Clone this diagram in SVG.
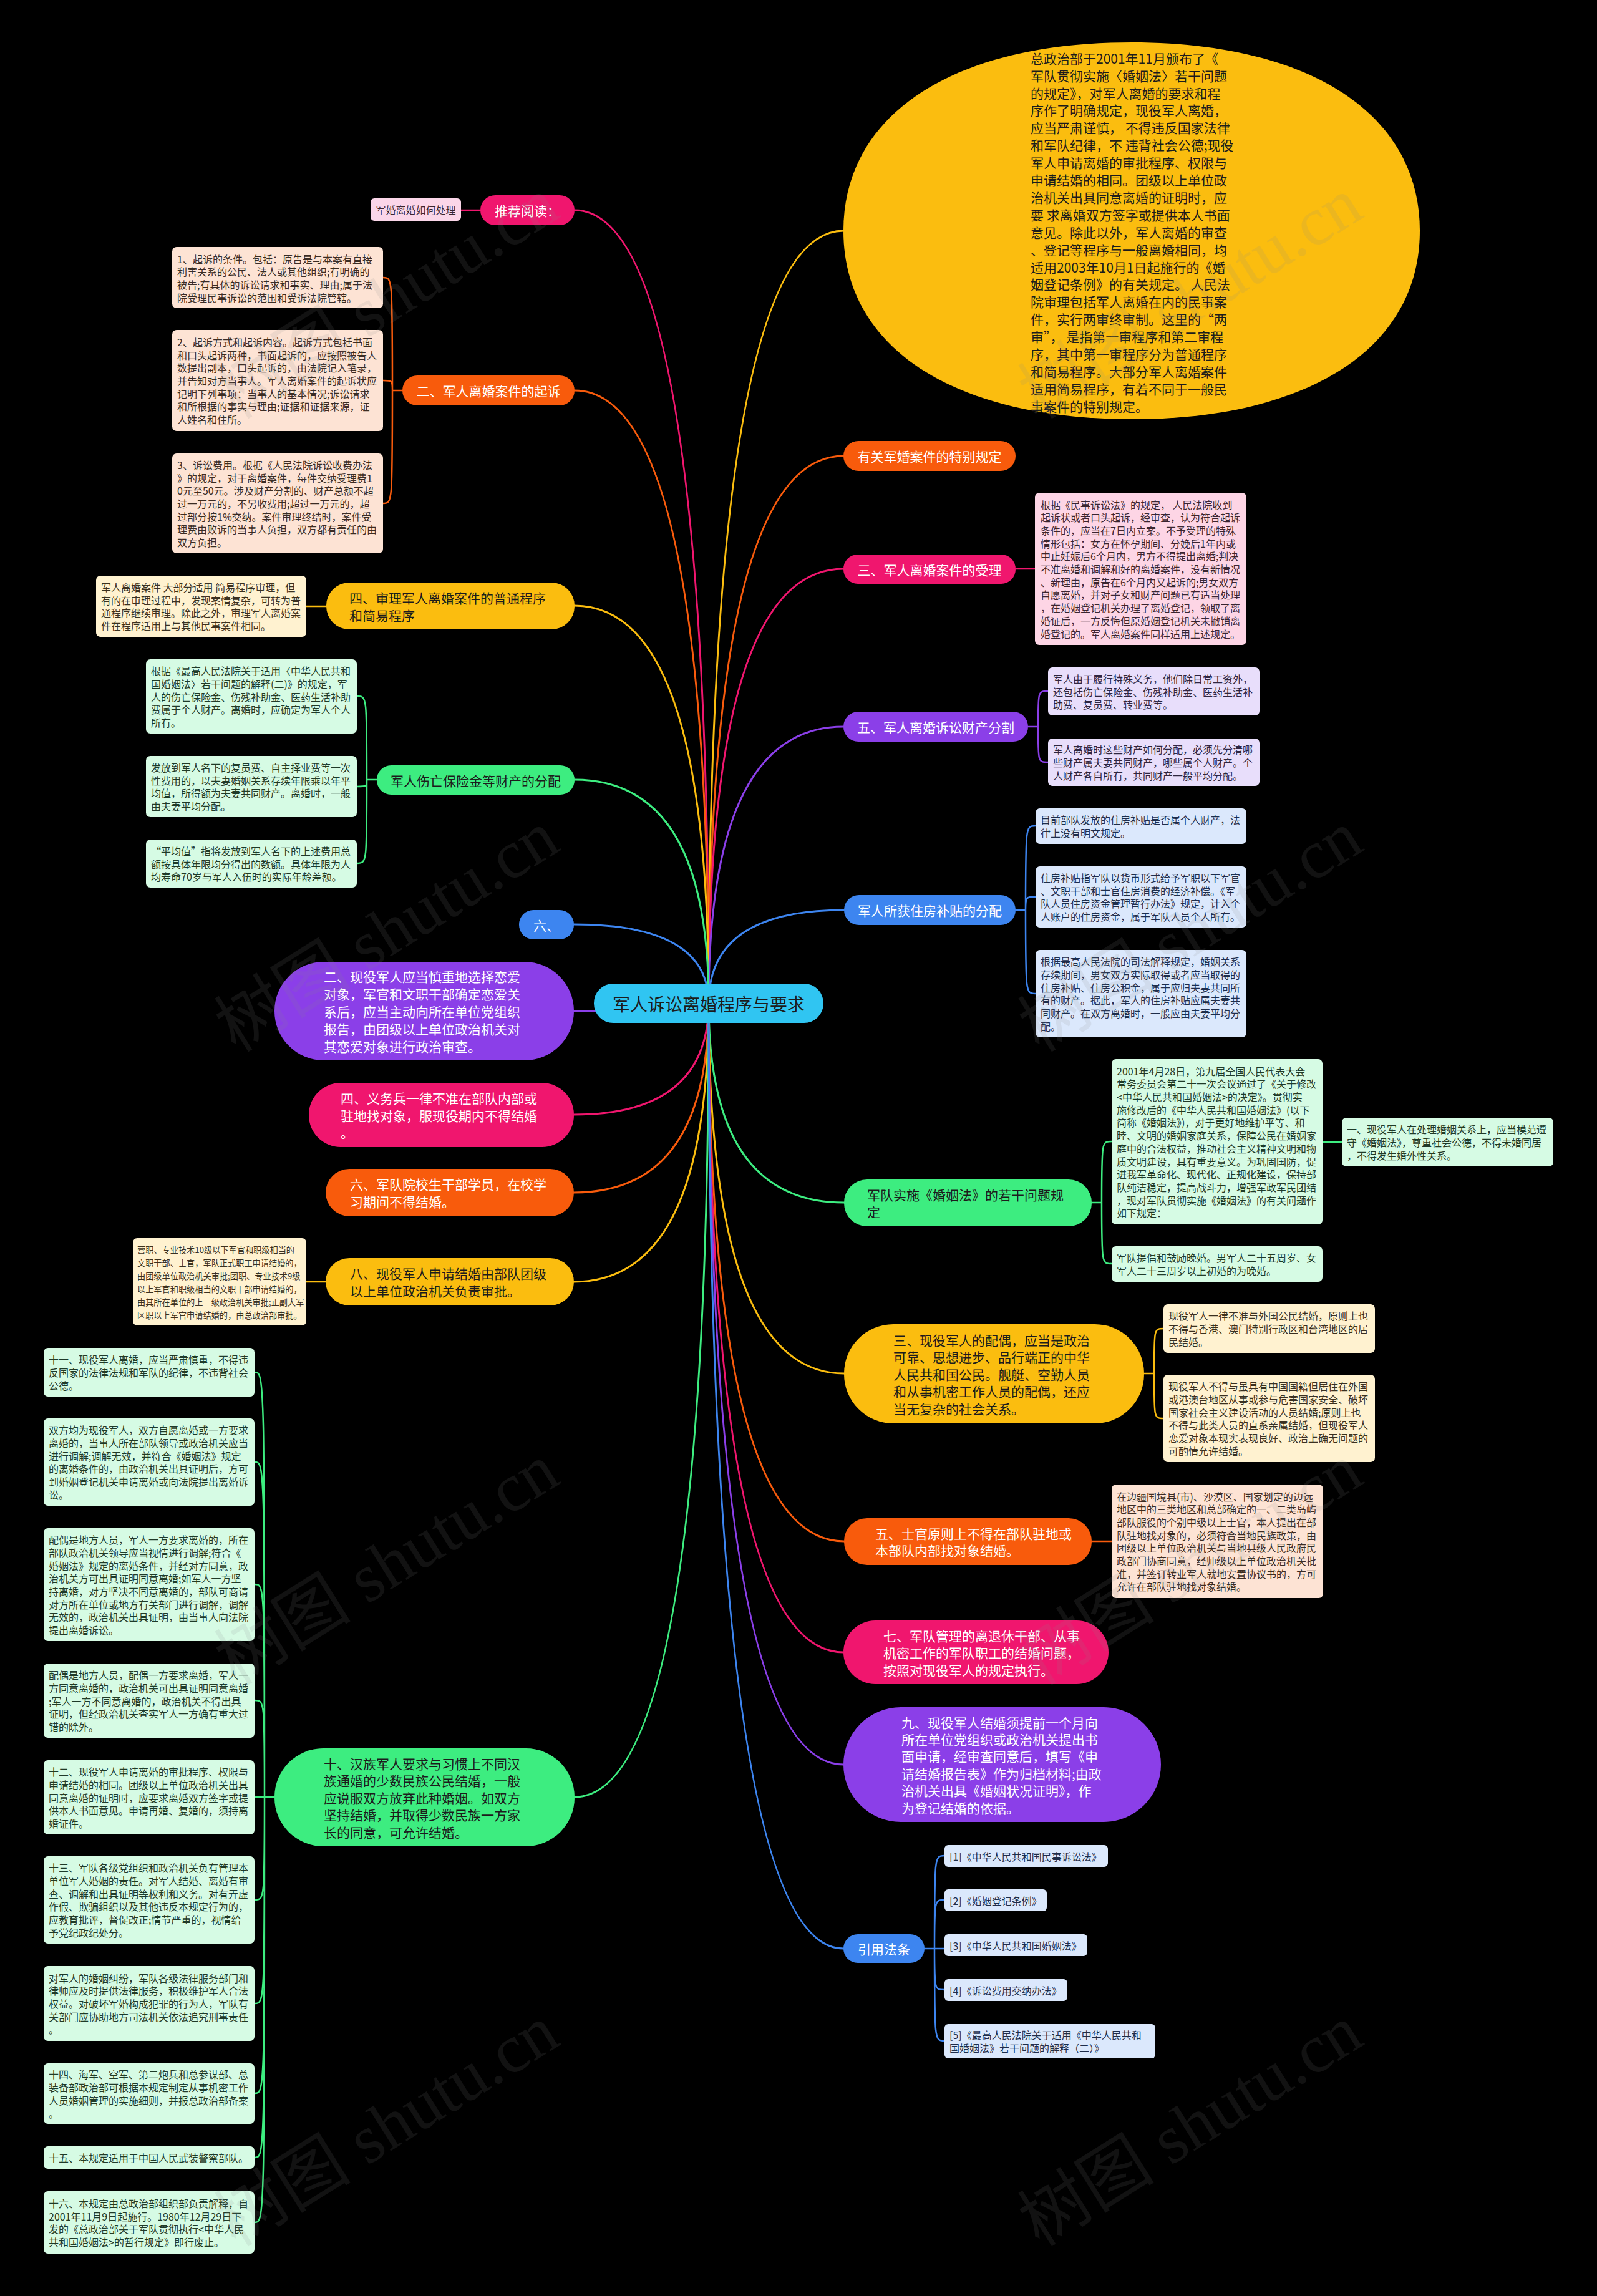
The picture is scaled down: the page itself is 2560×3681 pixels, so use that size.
<svg xmlns="http://www.w3.org/2000/svg" width="2560" height="3681" viewBox="0 0 2560 3681">
<style>
.t{font-family:"Noto Sans CJK SC","Noto Sans",sans-serif;dominant-baseline:central}
.d{font-size:16px}
.n{font-size:21px}
.w{fill:#ffffff}
.k{fill:#1c1c1c}
.c{fill:none;stroke-width:3;stroke-linecap:round}
.cs{fill:none;stroke-width:2.5;stroke-linecap:round}
.wm{font-family:"Liberation Serif","Noto Sans CJK SC",serif;font-size:110px;fill:#8a8a8a;opacity:0.13}
</style>
<rect x="0" y="0" width="2560" height="3681" fill="#000000"/>

<g id="connectors">
<path class="c" stroke="#f0166e" d="M1136 1608 Q1136 337 921 337"/>
<path class="c" stroke="#f85b0c" d="M1136 1608 Q1136 626 921 626"/>
<path class="c" stroke="#fbbd0f" d="M1136 1608 Q1136 370 1352 370"/>
<path class="c" stroke="#f85b0c" d="M1136 1608 Q1136 731 1352 731"/>
<path class="c" stroke="#f0166e" d="M1136 1608 Q1136 912 1352 912"/>
<path class="c" stroke="#fbbd0f" d="M1136 1608 Q1136 971 921 971"/>
<path class="c" stroke="#8b3fe8" d="M1136 1608 Q1136 1165 1352 1165"/>
<path class="c" stroke="#3ded80" d="M1136 1608 Q1136 1250 921 1250"/>
<path class="c" stroke="#3d85f0" d="M1136 1608 Q1136 1459 1353 1459"/>
<path class="c" stroke="#3d85f0" d="M1136 1608 Q1136 1482 920 1482"/>
<path class="c" stroke="#8b3fe8" d="M1136 1608 Q1136 1621 920 1621"/>
<path class="c" stroke="#f0166e" d="M1136 1608 Q1136 1787 920 1787"/>
<path class="c" stroke="#3ded80" d="M1136 1608 Q1136 1928 1353 1928"/>
<path class="c" stroke="#f85b0c" d="M1136 1608 Q1136 1912 920 1912"/>
<path class="c" stroke="#fbbd0f" d="M1136 1608 Q1136 2055 920 2055"/>
<path class="c" stroke="#fbbd0f" d="M1136 1608 Q1136 2202 1353 2202"/>
<path class="c" stroke="#f85b0c" d="M1136 1608 Q1136 2471 1353 2471"/>
<path class="c" stroke="#f0166e" d="M1136 1608 Q1136 2649 1352 2649"/>
<path class="c" stroke="#8b3fe8" d="M1136 1608 Q1136 2829 1352 2829"/>
<path class="c" stroke="#3ded80" d="M1136 1608 Q1136 2881 921 2881"/>
<path class="c" stroke="#3d85f0" d="M1136 1608 Q1136 3124 1352 3124"/>

<path class="cs" stroke="#f0166e" d="M770 337 H739"/>
<path class="cs" stroke="#f85b0c" d="M645 626 H629 C629 445 629 445 614 445 M629 626 C629 610 629 610 614 610 M629 626 C629 807 629 807 614 807"/>
<path class="cs" stroke="#fbbd0f" d="M523 972 H491"/>
<path class="cs" stroke="#3ded80" d="M604 1250 H588 C588 1116 588 1116 572 1116 M588 1250 C588 1261 588 1261 572 1261 M588 1250 C588 1384 588 1384 572 1384"/>
<path class="cs" stroke="#fbbd0f" d="M522 2055 H491"/>
<path class="cs" stroke="#3ded80" d="M440 2881 H424 C424 2200 424 2200 408 2200 M424 2881 C424 2344 424 2344 408 2344 M424 2881 C424 2540 424 2540 408 2540 M424 2881 C424 2726 424 2726 408 2726 M424 2881 H408 M424 2881 C424 3046 424 3046 408 3046 M424 2881 C424 3212 424 3212 408 3212 M424 2881 C424 3356 424 3356 408 3356 M424 2881 C424 3459 424 3459 408 3459 M424 2881 C424 3563 424 3563 408 3563"/>
<path class="cs" stroke="#f0166e" d="M1628 912 H1659"/>
<path class="cs" stroke="#8b3fe8" d="M1648 1165 H1664 C1664 1108 1664 1108 1680 1108 M1664 1165 C1664 1222 1664 1222 1680 1222"/>
<path class="cs" stroke="#3d85f0" d="M1628 1459 H1644 C1644 1324 1644 1324 1660 1324 M1644 1459 C1644 1438 1644 1438 1660 1438 M1644 1459 C1644 1593 1644 1593 1660 1593"/>
<path class="cs" stroke="#3ded80" d="M1750 1928 H1766 C1766 1830 1766 1830 1782 1830 M1766 1928 C1766 2026 1766 2026 1782 2026"/>
<path class="cs" stroke="#3ded80" d="M2120 1831 H2151"/>
<path class="cs" stroke="#fbbd0f" d="M1834 2202 H1850 C1850 2130 1850 2130 1865 2130 M1850 2202 C1850 2274 1850 2274 1865 2274"/>
<path class="cs" stroke="#f85b0c" d="M1750 2471 H1782"/>
<path class="cs" stroke="#3d85f0" d="M1482 3124 H1498 C1498 2975 1498 2975 1514 2975 M1498 3124 C1498 3046 1498 3046 1514 3046 M1498 3124 H1514 M1498 3124 C1498 3190 1498 3190 1514 3190 M1498 3124 C1498 3272 1498 3272 1514 3272"/>
</g>

<g id="root">
<rect x="952" y="1577" width="368" height="63" rx="31" fill="#30c5f2"/>
<text class="t k" x="1136" y="1608.5" font-size="28" text-anchor="middle">军人诉讼离婚程序与要求</text>
</g>

<g id="n-ellipse">
<path d="M1352 370 C1352 183 1528 68 1814 68 C2100 68 2276 183 2276 370 C2276 557 2100 672 1814 672 C1528 672 1352 557 1352 370 Z" fill="#fbbd0f"/>
<text class="t k" font-size="21">
<tspan x="1652" y="92.7">总政治部于2001年11月颁布了《</tspan>
<tspan x="1652" y="120.6">军队贯彻实施〈婚姻法〉若干问题</tspan>
<tspan x="1652" y="148.5">的规定》，对军人离婚的要求和程</tspan>
<tspan x="1652" y="176.4">序作了明确规定，现役军人离婚，</tspan>
<tspan x="1652" y="204.3">应当严肃谨慎， 不得违反国家法律</tspan>
<tspan x="1652" y="232.2">和军队纪律，不 违背社会公德;现役</tspan>
<tspan x="1652" y="260.1">军人申请离婚的审批程序、权限与</tspan>
<tspan x="1652" y="288">申请结婚的相同。团级以上单位政</tspan>
<tspan x="1652" y="315.9">治机关出具同意离婚的证明时，应</tspan>
<tspan x="1652" y="343.8">要 求离婚双方签字或提供本人书面</tspan>
<tspan x="1652" y="371.7">意见。除此以外，军人离婚的审查</tspan>
<tspan x="1652" y="399.6">、登记等程序与一般离婚相同，均</tspan>
<tspan x="1652" y="427.5">适用2003年10月1日起施行的《婚</tspan>
<tspan x="1652" y="455.4">姻登记条例》的有关规定。 人民法</tspan>
<tspan x="1652" y="483.3">院审理包括军人离婚在内的民事案</tspan>
<tspan x="1652" y="511.2">件，实行两审终审制。这里的“两</tspan>
<tspan x="1652" y="539.1">审”， 是指第一审程序和第二审程</tspan>
<tspan x="1652" y="567">序，其中第一审程序分为普通程序</tspan>
<tspan x="1652" y="594.9">和简易程序。大部分军人离婚案件</tspan>
<tspan x="1652" y="622.8">适用简易程序，有着不同于一般民</tspan>
<tspan x="1652" y="650.7">事案件的特别规定。</tspan>
</text>
</g>

<g id="n-tuijian">
<rect x="770" y="313" width="151" height="48" rx="24" fill="#f0166e"/>
<text class="t n w" x="845.5" y="337" text-anchor="middle">推荐阅读：</text>
<rect x="594" y="318" width="145" height="36" rx="6" fill="#fbd6e9"/>
<text class="t d" fill="#3a2530" x="666.5" y="336" text-anchor="middle">军婚离婚如何处理</text>
</g>

<g id="n-qisu">
<rect x="645" y="602" width="276" height="48" rx="24" fill="#f85b0c"/>
<text class="t n w" x="783" y="626" text-anchor="middle">二、军人离婚案件的起诉</text>
<rect x="276" y="396" width="338" height="98" rx="7" fill="#fde3d4"/>
<text class="t d" fill="#3a2c24">
<tspan x="284" y="414.5">1、起诉的条件。包括：原告是与本案有直接</tspan>
<tspan x="284" y="435.2">利害关系的公民、法人或其他组织;有明确的</tspan>
<tspan x="284" y="455.9">被告;有具体的诉讼请求和事实、理由;属于法</tspan>
<tspan x="284" y="476.6">院受理民事诉讼的范围和受诉法院管辖。</tspan>
</text>
<rect x="276" y="529" width="338" height="162" rx="7" fill="#fde3d4"/>
<text class="t d" fill="#3a2c24">
<tspan x="284" y="547.9">2、起诉方式和起诉内容。起诉方式包括书面</tspan>
<tspan x="284" y="568.6">和口头起诉两种，书面起诉的，应按照被告人</tspan>
<tspan x="284" y="589.3">数提出副本，口头起诉的，由法院记入笔录，</tspan>
<tspan x="284" y="610">并告知对方当事人。军人离婚案件的起诉状应</tspan>
<tspan x="284" y="630.7">记明下列事项：当事人的基本情况;诉讼请求</tspan>
<tspan x="284" y="651.4">和所根据的事实与理由;证据和证据来源，证</tspan>
<tspan x="284" y="672.1">人姓名和住所。</tspan>
</text>
<rect x="276" y="727" width="338" height="160" rx="7" fill="#fde3d4"/>
<text class="t d" fill="#3a2c24">
<tspan x="284" y="744.9">3、诉讼费用。根据《人民法院诉讼收费办法</tspan>
<tspan x="284" y="765.6">》的规定，对于离婚案件，每件交纳受理费1</tspan>
<tspan x="284" y="786.3">0元至50元。涉及财产分割的、财产总额不超</tspan>
<tspan x="284" y="807">过一万元的，不另收费用;超过一万元的，超</tspan>
<tspan x="284" y="827.7">过部分按1%交纳。案件审理终结时，案件受</tspan>
<tspan x="284" y="848.4">理费由败诉的当事人负担，双方都有责任的由</tspan>
<tspan x="284" y="869.1">双方负担。</tspan>
</text>
</g>

<g id="n-youguan">
<rect x="1352" y="707" width="276" height="48" rx="24" fill="#f85b0c"/>
<text class="t n w" x="1490" y="731" text-anchor="middle">有关军婚案件的特别规定</text>
</g>

<g id="n-shouli">
<rect x="1352" y="889" width="276" height="47" rx="23" fill="#f0166e"/>
<text class="t n w" x="1490" y="912.5" text-anchor="middle">三、军人离婚案件的受理</text>
<rect x="1659" y="790" width="339" height="244" rx="7" fill="#fdd5e5"/>
<text class="t d" fill="#3a2530">
<tspan x="1668" y="808.5">根据《民事诉讼法》的规定， 人民法院收到</tspan>
<tspan x="1668" y="829.2">起诉状或者口头起诉，经审查，认为符合起诉</tspan>
<tspan x="1668" y="849.9">条件的，应当在7日内立案。不予受理的特殊</tspan>
<tspan x="1668" y="870.6">情形包括：女方在怀孕期间、分娩后1年内或</tspan>
<tspan x="1668" y="891.3">中止妊娠后6个月内，男方不得提出离婚;判决</tspan>
<tspan x="1668" y="912">不准离婚和调解和好的离婚案件，没有新情况</tspan>
<tspan x="1668" y="932.7">、新理由，原告在6个月内又起诉的;男女双方</tspan>
<tspan x="1668" y="953.4">自愿离婚，并对子女和财产问题已有适当处理</tspan>
<tspan x="1668" y="974.1">，在婚姻登记机关办理了离婚登记，领取了离</tspan>
<tspan x="1668" y="994.8">婚证后，一方反悔但原婚姻登记机关未撤销离</tspan>
<tspan x="1668" y="1015.5">婚登记的。军人离婚案件同样适用上述规定。</tspan>
</text>
</g>

<g id="n-shenli">
<rect x="523" y="934" width="398" height="75" rx="37" fill="#fbbd0f"/>
<text class="t n k"><tspan x="560" y="958.25">四、审理军人离婚案件的普通程序</tspan><tspan x="560" y="985.75">和简易程序</tspan></text>
<rect x="154" y="923" width="337" height="98" rx="7" fill="#fff2d0"/>
<text class="t d" fill="#3a3020">
<tspan x="162" y="941">军人离婚案件 大部分适用 简易程序审理，但</tspan>
<tspan x="162" y="961.7">有的在审理过程中，发现案情复杂，可转为普</tspan>
<tspan x="162" y="982.4">通程序继续审理。除此之外，审理军人离婚案</tspan>
<tspan x="162" y="1003.1">件在程序适用上与其他民事案件相同。</tspan>
</text>
</g>

<g id="n-caichan">
<rect x="1352" y="1141" width="296" height="48" rx="24" fill="#8b3fe8"/>
<text class="t n w" x="1500" y="1165" text-anchor="middle">五、军人离婚诉讼财产分割</text>
<rect x="1680" y="1070" width="339" height="77" rx="7" fill="#e8defb"/>
<text class="t d" fill="#2e2540">
<tspan x="1688" y="1087.8">军人由于履行特殊义务，他们除日常工资外，</tspan>
<tspan x="1688" y="1108.5">还包括伤亡保险金、伤残补助金、医药生活补</tspan>
<tspan x="1688" y="1129.2">助费、复员费、转业费等。</tspan>
</text>
<rect x="1680" y="1184" width="339" height="76" rx="7" fill="#e8defb"/>
<text class="t d" fill="#2e2540">
<tspan x="1688" y="1201.3">军人离婚时这些财产如何分配，必须先分清哪</tspan>
<tspan x="1688" y="1222">些财产属夫妻共同财产，哪些属个人财产。个</tspan>
<tspan x="1688" y="1242.7">人财产各自所有，共同财产一般平均分配。</tspan>
</text>
</g>

<g id="n-shangwang">
<rect x="604" y="1227" width="317" height="47" rx="23" fill="#3ded80"/>
<text class="t n k" x="762.5" y="1250.5" text-anchor="middle">军人伤亡保险金等财产的分配</text>
<rect x="234" y="1057" width="338" height="119" rx="7" fill="#d6fbe4"/>
<text class="t d" fill="#1f3a28">
<tspan x="242" y="1075.1">根据《最高人民法院关于适用〈中华人民共和</tspan>
<tspan x="242" y="1095.8">国婚姻法〉若干问题的解释(二)》的规定，军</tspan>
<tspan x="242" y="1116.5">人的伤亡保险金、伤残补助金、医药生活补助</tspan>
<tspan x="242" y="1137.2">费属于个人财产。离婚时，应确定为军人个人</tspan>
<tspan x="242" y="1157.9">所有。</tspan>
</text>
<rect x="234" y="1212" width="338" height="98" rx="7" fill="#d6fbe4"/>
<text class="t d" fill="#1f3a28">
<tspan x="242" y="1230">发放到军人名下的复员费、自主择业费等一次</tspan>
<tspan x="242" y="1250.7">性费用的，以夫妻婚姻关系存续年限乘以年平</tspan>
<tspan x="242" y="1271.4">均值，所得额为夫妻共同财产。离婚时，一般</tspan>
<tspan x="242" y="1292.1">由夫妻平均分配。</tspan>
</text>
<rect x="234" y="1346" width="338" height="77" rx="7" fill="#d6fbe4"/>
<text class="t d" fill="#1f3a28">
<tspan x="242" y="1363.8"> “平均值”指将发放到军人名下的上述费用总</tspan>
<tspan x="242" y="1384.5">额按具体年限均分得出的数额。具体年限为人</tspan>
<tspan x="242" y="1405.2">均寿命70岁与军人入伍时的实际年龄差额。</tspan>
</text>
</g>

<g id="n-zhufang">
<rect x="1353" y="1435" width="275" height="48" rx="24" fill="#3d85f0"/>
<text class="t n w" x="1490.5" y="1459" text-anchor="middle">军人所获住房补贴的分配</text>
<rect x="1660" y="1296" width="338" height="57" rx="7" fill="#dbe8fc"/>
<text class="t d" fill="#1e2d4a">
<tspan x="1668" y="1314.15">目前部队发放的住房补贴是否属个人财产，法</tspan>
<tspan x="1668" y="1334.85">律上没有明文规定。</tspan>
</text>
<rect x="1660" y="1389" width="338" height="98" rx="7" fill="#dbe8fc"/>
<text class="t d" fill="#1e2d4a">
<tspan x="1668" y="1406.95">住房补贴指军队以货币形式给予军职以下军官</tspan>
<tspan x="1668" y="1427.65">、文职干部和士官住房消费的经济补偿。《军</tspan>
<tspan x="1668" y="1448.35">队人员住房资金管理暂行办法》规定，计入个</tspan>
<tspan x="1668" y="1469.05">人账户的住房资金，属于军队人员个人所有。</tspan>
</text>
<rect x="1660" y="1523" width="338" height="140" rx="7" fill="#dbe8fc"/>
<text class="t d" fill="#1e2d4a">
<tspan x="1668" y="1541.25">根据最高人民法院的司法解释规定，婚姻关系</tspan>
<tspan x="1668" y="1561.95">存续期间，男女双方实际取得或者应当取得的</tspan>
<tspan x="1668" y="1582.65">住房补贴、住房公积金，属于应归夫妻共同所</tspan>
<tspan x="1668" y="1603.35">有的财产。据此，军人的住房补贴应属夫妻共</tspan>
<tspan x="1668" y="1624.05">同财产。在双方离婚时，一般应由夫妻平均分</tspan>
<tspan x="1668" y="1644.75">配。</tspan>
</text>
</g>

<g id="n-liu">
<rect x="832" y="1459" width="88" height="47" rx="23" fill="#3d85f0"/>
<text class="t n w" x="876" y="1482.5" text-anchor="middle">六、</text>
</g>

<g id="n-lianai">
<rect x="440" y="1542" width="480" height="158" rx="79" fill="#8b3fe8"/>
<text class="t n w">
<tspan x="519" y="1565.2">二、现役军人应当慎重地选择恋爱</tspan>
<tspan x="519" y="1593.1">对象，军官和文职干部确定恋爱关</tspan>
<tspan x="519" y="1621">系后，应当主动向所在单位党组织</tspan>
<tspan x="519" y="1648.9">报告，由团级以上单位政治机关对</tspan>
<tspan x="519" y="1676.8">其恋爱对象进行政治审查。</tspan>
</text>
</g>

<g id="n-yiwubing">
<rect x="495" y="1736" width="425" height="103" rx="51" fill="#f0166e"/>
<text class="t n w">
<tspan x="546" y="1760">四、义务兵一律不准在部队内部或</tspan>
<tspan x="546" y="1787.5">驻地找对象，服现役期内不得结婚</tspan>
<tspan x="546" y="1815">。</tspan>
</text>
</g>

<g id="n-shishi">
<rect x="1353" y="1891" width="397" height="75" rx="37" fill="#3ded80"/>
<text class="t n k"><tspan x="1390" y="1914.75">军队实施《婚姻法》的若干问题规</tspan><tspan x="1390" y="1942.25">定</tspan></text>
<rect x="1782" y="1698" width="338" height="265" rx="7" fill="#d6fbe4"/>
<text class="t d" fill="#1f3a28">
<tspan x="1790" y="1716.65">2001年4月28日，第九届全国人民代表大会</tspan>
<tspan x="1790" y="1737.35">常务委员会第二十一次会议通过了《关于修改</tspan>
<tspan x="1790" y="1758.05">&lt;中华人民共和国婚姻法&gt;的决定》。贯彻实</tspan>
<tspan x="1790" y="1778.75">施修改后的《中华人民共和国婚姻法》(以下</tspan>
<tspan x="1790" y="1799.45">简称《婚姻法》)，对于更好地维护平等、和</tspan>
<tspan x="1790" y="1820.15">睦、文明的婚姻家庭关系，保障公民在婚姻家</tspan>
<tspan x="1790" y="1840.85">庭中的合法权益，推动社会主义精神文明和物</tspan>
<tspan x="1790" y="1861.55">质文明建设，具有重要意义。为巩固国防，促</tspan>
<tspan x="1790" y="1882.25">进我军革命化、现代化、正规化建设，保持部</tspan>
<tspan x="1790" y="1902.95">队纯洁稳定，提高战斗力，增强军政军民团结</tspan>
<tspan x="1790" y="1923.65">，现对军队贯彻实施《婚姻法》的有关问题作</tspan>
<tspan x="1790" y="1944.35">如下规定：</tspan>
</text>
<rect x="1782" y="1998" width="338" height="57" rx="7" fill="#d6fbe4"/>
<text class="t d" fill="#1f3a28">
<tspan x="1790" y="2016.15">军队提倡和鼓励晚婚。男军人二十五周岁、女</tspan>
<tspan x="1790" y="2036.85">军人二十三周岁以上初婚的为晚婚。</tspan>
</text>
<rect x="2151" y="1792" width="339" height="78" rx="7" fill="#d6fbe4"/>
<text class="t d" fill="#1f3a28">
<tspan x="2159" y="1810.3">一、现役军人在处理婚姻关系上，应当模范遵</tspan>
<tspan x="2159" y="1831">守《婚姻法》，尊重社会公德，不得未婚同居</tspan>
<tspan x="2159" y="1851.7">，不得发生婚外性关系。</tspan>
</text>
</g>

<g id="n-yuanxiao">
<rect x="522" y="1874" width="398" height="76" rx="38" fill="#f85b0c"/>
<text class="t n w"><tspan x="561" y="1898.25">六、军队院校生干部学员，在校学</tspan><tspan x="561" y="1925.75">习期间不得结婚。</tspan></text>
</g>

<g id="n-ba">
<rect x="522" y="2017" width="398" height="76" rx="38" fill="#fbbd0f"/>
<text class="t n k"><tspan x="561" y="2041.25">八、现役军人申请结婚由部队团级</tspan><tspan x="561" y="2068.75">以上单位政治机关负责审批。</tspan></text>
<rect x="213" y="1985" width="278" height="140" rx="7" fill="#fff2d0"/>
<text class="t" font-size="13.2" fill="#3a3020">
<tspan x="220" y="2002.5">营职、专业技术10级以下军官和职级相当的</tspan>
<tspan x="220" y="2023.5">文职干部、士官，军队正式职工申请结婚的，</tspan>
<tspan x="220" y="2044.5">由团级单位政治机关审批;团职、专业技术9级</tspan>
<tspan x="220" y="2065.5">以上军官和职级相当的文职干部申请结婚的，</tspan>
<tspan x="220" y="2086.5">由其所在单位的上一级政治机关审批;正副大军</tspan>
<tspan x="220" y="2107.5">区职以上军官申请结婚的，由总政治部审批。</tspan>
</text>
</g>

<g id="n-peiou">
<rect x="1353" y="2123" width="481" height="159" rx="79" fill="#fbbd0f"/>
<text class="t n k">
<tspan x="1432" y="2147.5">三、现役军人的配偶，应当是政治</tspan>
<tspan x="1432" y="2175">可靠、思想进步、品行端正的中华</tspan>
<tspan x="1432" y="2202.5">人民共和国公民。舰艇、空勤人员</tspan>
<tspan x="1432" y="2230">和从事机密工作人员的配偶，还应</tspan>
<tspan x="1432" y="2257.5">当无复杂的社会关系。</tspan>
</text>
<rect x="1865" y="2091" width="339" height="78" rx="7" fill="#fff2d0"/>
<text class="t d" fill="#3a3020">
<tspan x="1873" y="2109.3">现役军人一律不准与外国公民结婚，原则上也</tspan>
<tspan x="1873" y="2130">不得与香港、澳门特别行政区和台湾地区的居</tspan>
<tspan x="1873" y="2150.7">民结婚。</tspan>
</text>
<rect x="1865" y="2204" width="339" height="140" rx="7" fill="#fff2d0"/>
<text class="t d" fill="#3a3020">
<tspan x="1873" y="2222.25">现役军人不得与虽具有中国国籍但居住在外国</tspan>
<tspan x="1873" y="2242.95">或港澳台地区从事或参与危害国家安全、破坏</tspan>
<tspan x="1873" y="2263.65">国家社会主义建设活动的人员结婚;原则上也</tspan>
<tspan x="1873" y="2284.35">不得与此类人员的直系亲属结婚，但现役军人</tspan>
<tspan x="1873" y="2305.05">恋爱对象本现实表现良好、政治上确无问题的</tspan>
<tspan x="1873" y="2325.75">可酌情允许结婚。</tspan>
</text>
</g>

<g id="n-shiguan">
<rect x="1353" y="2434" width="397" height="75" rx="37" fill="#f85b0c"/>
<text class="t n w"><tspan x="1403" y="2457.75">五、士官原则上不得在部队驻地或</tspan><tspan x="1403" y="2485.25">本部队内部找对象结婚。</tspan></text>
<rect x="1782" y="2380" width="339" height="182" rx="7" fill="#fde3d4"/>
<text class="t d" fill="#3a2c24">
<tspan x="1790" y="2398.55">在边疆国境县(市)、沙漠区、国家划定的边远</tspan>
<tspan x="1790" y="2419.25">地区中的三类地区和总部确定的一、二类岛屿</tspan>
<tspan x="1790" y="2439.95">部队服役的个别中级以上士官，本人提出在部</tspan>
<tspan x="1790" y="2460.65">队驻地找对象的，必须符合当地民族政策，由</tspan>
<tspan x="1790" y="2481.35">团级以上单位政治机关与当地县级人民政府民</tspan>
<tspan x="1790" y="2502.05">政部门协商同意，经师级以上单位政治机关批</tspan>
<tspan x="1790" y="2522.75">准，并签订转业军人就地安置协议书的，方可</tspan>
<tspan x="1790" y="2543.45">允许在部队驻地找对象结婚。</tspan>
</text>
</g>

<g id="n-qi">
<rect x="1352" y="2598" width="425" height="102" rx="51" fill="#f0166e"/>
<text class="t n w">
<tspan x="1416" y="2621.5">七、军队管理的离退休干部、从事</tspan>
<tspan x="1416" y="2649">机密工作的军队职工的结婚问题，</tspan>
<tspan x="1416" y="2676.5">按照对现役军人的规定执行。</tspan>
</text>
</g>

<g id="n-jiu">
<rect x="1352" y="2737" width="509" height="184" rx="92" fill="#8b3fe8"/>
<text class="t n w">
<tspan x="1445" y="2760.5">九、现役军人结婚须提前一个月向</tspan>
<tspan x="1445" y="2787.9">所在单位党组织或政治机关提出书</tspan>
<tspan x="1445" y="2815.3">面申请，经审查同意后，填写《申</tspan>
<tspan x="1445" y="2842.7">请结婚报告表》作为归档材料;由政</tspan>
<tspan x="1445" y="2870.1">治机关出具《婚姻状况证明》，作</tspan>
<tspan x="1445" y="2897.5">为登记结婚的依据。</tspan>
</text>
</g>

<g id="n-shi">
<rect x="440" y="2803" width="481" height="157" rx="78" fill="#3ded80"/>
<text class="t n k">
<tspan x="519" y="2826.5">十、汉族军人要求与习惯上不同汉</tspan>
<tspan x="519" y="2854">族通婚的少数民族公民结婚，一般</tspan>
<tspan x="519" y="2881.5">应说服双方放弃此种婚姻。如双方</tspan>
<tspan x="519" y="2909">坚持结婚，并取得少数民族一方家</tspan>
<tspan x="519" y="2936.5">长的同意，可允许结婚。</tspan>
</text>
<rect x="70" y="2161" width="338" height="78" rx="7" fill="#d6fbe4"/>
<text class="t d" fill="#1f3a28">
<tspan x="78" y="2179.3">十一、现役军人离婚，应当严肃慎重，不得违</tspan>
<tspan x="78" y="2200">反国家的法律法规和军队的纪律，不违背社会</tspan>
<tspan x="78" y="2220.7">公德。</tspan>
</text>
<rect x="70" y="2274" width="338" height="140" rx="7" fill="#d6fbe4"/>
<text class="t d" fill="#1f3a28">
<tspan x="78" y="2292.25">双方均为现役军人，双方自愿离婚或一方要求</tspan>
<tspan x="78" y="2312.95">离婚的，当事人所在部队领导或政治机关应当</tspan>
<tspan x="78" y="2333.65">进行调解;调解无效，并符合《婚姻法》规定</tspan>
<tspan x="78" y="2354.35">的离婚条件的，由政治机关出具证明后，方可</tspan>
<tspan x="78" y="2375.05">到婚姻登记机关申请离婚或向法院提出离婚诉</tspan>
<tspan x="78" y="2395.75">讼。</tspan>
</text>
<rect x="70" y="2450" width="338" height="181" rx="7" fill="#d6fbe4"/>
<text class="t d" fill="#1f3a28">
<tspan x="78" y="2468.1">配偶是地方人员，军人一方要求离婚的，所在</tspan>
<tspan x="78" y="2488.8">部队政治机关领导应当视情进行调解;符合《</tspan>
<tspan x="78" y="2509.5">婚姻法》规定的离婚条件，并经对方同意，政</tspan>
<tspan x="78" y="2530.2">治机关方可出具证明同意离婚;如军人一方坚</tspan>
<tspan x="78" y="2550.9">持离婚，对方坚决不同意离婚的，部队可商请</tspan>
<tspan x="78" y="2571.6">对方所在单位或地方有关部门进行调解，调解</tspan>
<tspan x="78" y="2592.3">无效的，政治机关出具证明，由当事人向法院</tspan>
<tspan x="78" y="2613">提出离婚诉讼。</tspan>
</text>
<rect x="70" y="2667" width="338" height="119" rx="7" fill="#d6fbe4"/>
<text class="t d" fill="#1f3a28">
<tspan x="78" y="2685.1">配偶是地方人员，配偶一方要求离婚，军人一</tspan>
<tspan x="78" y="2705.8">方同意离婚的，政治机关可出具证明同意离婚</tspan>
<tspan x="78" y="2726.5">;军人一方不同意离婚的，政治机关不得出具</tspan>
<tspan x="78" y="2747.2">证明，但经政治机关查实军人一方确有重大过</tspan>
<tspan x="78" y="2767.9">错的除外。</tspan>
</text>
<rect x="70" y="2822" width="338" height="119" rx="7" fill="#d6fbe4"/>
<text class="t d" fill="#1f3a28">
<tspan x="78" y="2840.1">十二、现役军人申请离婚的审批程序、权限与</tspan>
<tspan x="78" y="2860.8">申请结婚的相同。团级以上单位政治机关出具</tspan>
<tspan x="78" y="2881.5">同意离婚的证明时，应要求离婚双方签字或提</tspan>
<tspan x="78" y="2902.2">供本人书面意见。申请再婚、复婚的，须持离</tspan>
<tspan x="78" y="2922.9">婚证件。</tspan>
</text>
<rect x="70" y="2976" width="338" height="140" rx="7" fill="#d6fbe4"/>
<text class="t d" fill="#1f3a28">
<tspan x="78" y="2994.25">十三、军队各级党组织和政治机关负有管理本</tspan>
<tspan x="78" y="3014.95">单位军人婚姻的责任。对军人结婚、离婚有审</tspan>
<tspan x="78" y="3035.65">查、调解和出具证明等权利和义务。对有弄虚</tspan>
<tspan x="78" y="3056.35">作假、欺骗组织以及其他违反本规定行为的，</tspan>
<tspan x="78" y="3077.05">应教育批评，督促改正;情节严重的，视情给</tspan>
<tspan x="78" y="3097.75">予党纪政纪处分。</tspan>
</text>
<rect x="70" y="3152" width="338" height="120" rx="7" fill="#d6fbe4"/>
<text class="t d" fill="#1f3a28">
<tspan x="78" y="3170.6">对军人的婚姻纠纷，军队各级法律服务部门和</tspan>
<tspan x="78" y="3191.3">律师应及时提供法律服务，积极维护军人合法</tspan>
<tspan x="78" y="3212">权益。对破坏军婚构成犯罪的行为人，军队有</tspan>
<tspan x="78" y="3232.7">关部门应协助地方司法机关依法追究刑事责任</tspan>
<tspan x="78" y="3253.4">。</tspan>
</text>
<rect x="70" y="3308" width="338" height="97" rx="7" fill="#d6fbe4"/>
<text class="t d" fill="#1f3a28">
<tspan x="78" y="3325.45">十四、海军、空军、第二炮兵和总参谋部、总</tspan>
<tspan x="78" y="3346.15">装备部政治部可根据本规定制定从事机密工作</tspan>
<tspan x="78" y="3366.85">人员婚姻管理的实施细则，并报总政治部备案</tspan>
<tspan x="78" y="3387.55">。</tspan>
</text>
<rect x="70" y="3441" width="338" height="36" rx="7" fill="#d6fbe4"/>
<text class="t d" fill="#1f3a28"><tspan x="78" y="3459">十五、本规定适用于中国人民武装警察部队。</tspan></text>
<rect x="70" y="3513" width="338" height="100" rx="7" fill="#d6fbe4"/>
<text class="t d" fill="#1f3a28">
<tspan x="78" y="3531.95">十六、本规定由总政治部组织部负责解释，自</tspan>
<tspan x="78" y="3552.65">2001年11月9日起施行。1980年12月29日下</tspan>
<tspan x="78" y="3573.35">发的《总政治部关于军队贯彻执行&lt;中华人民</tspan>
<tspan x="78" y="3594.05">共和国婚姻法&gt;的暂行规定》即行废止。</tspan>
</text>
</g>

<g id="n-yinyong">
<rect x="1352" y="3101" width="130" height="46" rx="23" fill="#3d85f0"/>
<text class="t n w" x="1417" y="3124" text-anchor="middle">引用法条</text>
<rect x="1514" y="2958" width="262" height="35" rx="6" fill="#dbe8fc"/>
<text class="t d" fill="#1e2d4a" x="1522" y="2975.5">[1]《中华人民共和国民事诉讼法》</text>
<rect x="1514" y="3029" width="164" height="35" rx="6" fill="#dbe8fc"/>
<text class="t d" fill="#1e2d4a" x="1522" y="3046.5">[2]《婚姻登记条例》</text>
<rect x="1514" y="3101" width="229" height="35" rx="6" fill="#dbe8fc"/>
<text class="t d" fill="#1e2d4a" x="1522" y="3118.5">[3]《中华人民共和国婚姻法》</text>
<rect x="1514" y="3173" width="197" height="35" rx="6" fill="#dbe8fc"/>
<text class="t d" fill="#1e2d4a" x="1522" y="3190.5">[4]《诉讼费用交纳办法》</text>
<rect x="1514" y="3245" width="338" height="55" rx="6" fill="#dbe8fc"/>
<text class="t d" fill="#1e2d4a"><tspan x="1522" y="3262.15">[5]《最高人民法院关于适用《中华人民共和</tspan><tspan x="1522" y="3282.85">国婚姻法》若干问题的解释（二）》</tspan></text>
</g>

<g id="watermarks">
<text class="wm" x="640" y="510" text-anchor="middle" transform="rotate(-32 640 510)">树图 shutu.cn</text>
<text class="wm" x="1928" y="510" text-anchor="middle" transform="rotate(-32 1928 510)">树图 shutu.cn</text>
<text class="wm" x="640" y="1525" text-anchor="middle" transform="rotate(-32 640 1525)">树图 shutu.cn</text>
<text class="wm" x="1928" y="1525" text-anchor="middle" transform="rotate(-32 1928 1525)">树图 shutu.cn</text>
<text class="wm" x="640" y="2540" text-anchor="middle" transform="rotate(-32 640 2540)">树图 shutu.cn</text>
<text class="wm" x="1928" y="2540" text-anchor="middle" transform="rotate(-32 1928 2540)">树图 shutu.cn</text>
<text class="wm" x="640" y="3440" text-anchor="middle" transform="rotate(-32 640 3440)">树图 shutu.cn</text>
<text class="wm" x="1928" y="3440" text-anchor="middle" transform="rotate(-32 1928 3440)">树图 shutu.cn</text>
</g>
</svg>
